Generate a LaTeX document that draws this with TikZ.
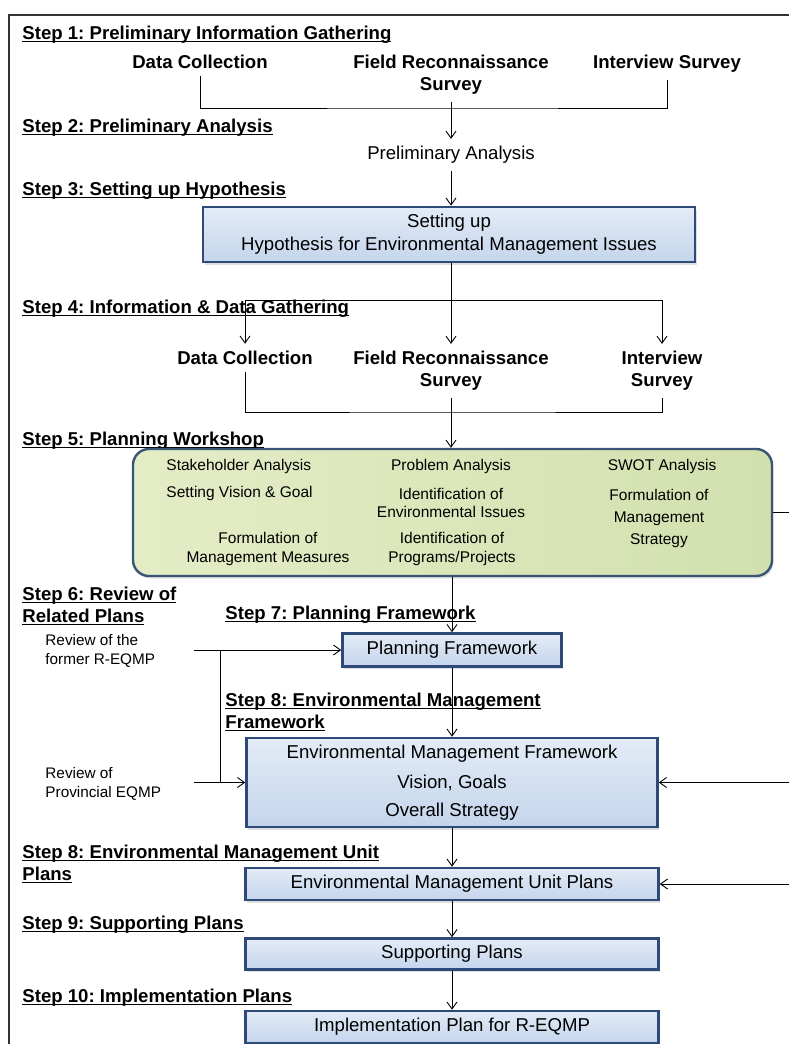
\documentclass[tikz,border=0pt]{standalone}
\usepackage{fontspec}
\setmainfont{Liberation Sans}
\usetikzlibrary{arrows.meta,shadows}
\frenchspacing

\definecolor{boxedge}{HTML}{2D4A78}
\definecolor{boxtop}{HTML}{E3EBF6}
\definecolor{boxbot}{HTML}{C4D5EC}
\definecolor{wsedge}{HTML}{3A5475}
\definecolor{wsleft}{HTML}{E4ECC6}
\definecolor{wsright}{HTML}{D2E0AE}
\definecolor{framegray}{HTML}{333333}

% underline that sits just below the baseline
\newcommand\stepul[1]{\setbox0=\hbox{#1}\rlap{\rule[-2.6pt]{\wd0}{1.1pt}}\box0}
\newcommand\flowbig{\fontsize{18.6}{22}\selectfont}
\newcommand\flowsmall{\fontsize{15.5}{18.5}\selectfont}
\newcommand\flowrev{\fontsize{15.3}{19}\selectfont}

\begin{document}
\begin{tikzpicture}[x=1pt,y=-1pt,
  line width=0.9pt,
  arr/.style={-{Straight Barb[length=7pt,width=10pt]}},
  steplbl/.style={font=\flowbig\bfseries, inner sep=0pt, anchor=west, align=left},
  item/.style={font=\flowbig\bfseries, align=center, inner xsep=2pt, inner ysep=7pt},
  plaintext/.style={font=\flowbig, align=center, inner xsep=2pt, inner ysep=7pt},
  bluebox/.style={draw=boxedge, line width=2.6pt, top color=boxtop, bottom color=boxbot,
    font=\flowbig, align=center, inner sep=0pt,
    drop shadow={shadow xshift=1.5pt, shadow yshift=-2.5pt, opacity=0.25}},
  wsbox/.style={draw=wsedge, line width=2.4pt, rounded corners=16pt, left color=wsleft, right color=wsright,
    drop shadow={shadow xshift=1.5pt, shadow yshift=-2.5pt, opacity=0.25}},
  wstext/.style={font=\flowsmall, align=center, inner sep=0pt},
  revtext/.style={font=\flowrev, align=left, anchor=west, inner sep=0pt},
]
\useasboundingbox (0,0) rectangle (789,1044);

% outer frame
\draw[framegray, line width=1.4pt] (789,15) -- (9,15) -- (9,1044);

% step headings
\node[steplbl] (s1) at (22,35) {\stepul{Step 1: Preliminary Information Gathering}};
\node[steplbl] (s2) at (22,128) {\stepul{Step 2: Preliminary Analysis}};
\node[steplbl] (s3) at (22,191) {\stepul{Step 3: Setting up Hypothesis}};
\node[steplbl] (s4) at (22,309) {\stepul{Step 4: Information \& Data Gathering}};
\node[steplbl] (s5) at (22,441) {\stepul{Step 5: Planning Workshop}};
\node[steplbl] (s6) at (22,606) {\stepul{Step 6: Review of}\\\stepul{Related Plans}};
\node[steplbl] (s7) at (225,615) {\stepul{Step 7: Planning Framework}};
\node[steplbl] (s8a) at (225,712) {\stepul{Step 8: Environmental Management}\\\stepul{Framework}};
\node[steplbl] (s8b) at (22,864) {\stepul{Step 8: Environmental Management Unit}\\\stepul{Plans}};
\node[steplbl] (s9) at (22,925) {\stepul{Step 9: Supporting Plans}};
\node[steplbl] (s10) at (22,998) {\stepul{Step 10: Implementation Plans}};

% step 1 sources
\node[item] (dc1) at (200,62) {Data Collection};
\node[item] (fr1) at (451,75) {Field Reconnaissance\\Survey};
\node[item] (is1) at (667,64) {Interview Survey};
\coordinate (j1) at (451,108);

% step 2 and 3
\node[plaintext] (pa) at (451,155) {Preliminary Analysis};
\node[bluebox, minimum width=492pt, minimum height=55pt] (hyp) at (449,234.5)
  {Setting up\\[1pt]Hypothesis for Environmental Management Issues};

% step 4 sources
\coordinate (j2) at (451,300);
\node[item] (dc2) at (245,358) {Data Collection};
\node[item] (fr2) at (451,371) {Field Reconnaissance\\Survey};
\node[item] (is2) at (662,371) {Interview\\Survey};
\coordinate (j3) at (451,412);

% step 5 workshop
\node[wsbox, minimum width=639pt, minimum height=127pt] (ws) at (452.5,512.5) {};
\node[wstext, anchor=west] (w1) at (166,466) {Stakeholder Analysis};
\node[wstext, anchor=west] (w2) at (166,493) {Setting Vision \& Goal};
\node[wstext] (w3) at (268,549) {Formulation of\\Management Measures};
\node[wstext] (w4) at (451,466) {Problem Analysis};
\node[wstext] (w5) at (451,503) {Identification of\\Environmental Issues};
\node[wstext] (w6) at (452,549) {Identification of\\Programs/Projects};
\node[wstext] (w7) at (662,466) {SWOT Analysis};
\node[wstext] (w8) at (659,518) {Formulation of\\[3.5pt]Management\\[3.5pt]Strategy};
\coordinate (rw) at (789,514);

% steps 6 to 10
\node[revtext] (rv1) at (45,651) {Review of the\\former R-EQMP};
\node[revtext] (rv2) at (45,784) {Review of\\Provincial EQMP};
\node[bluebox, minimum width=219pt, minimum height=33pt] (pf) at (452,650) {Planning Framework};
\node[bluebox, minimum width=411pt, minimum height=89pt] (emf) at (452,782.5)
  {Environmental Management Framework\\[8pt]Vision, Goals\\[6pt]Overall Strategy};
\node[bluebox, minimum width=413pt, minimum height=32pt] (emu) at (452,884) {Environmental Management Unit Plans};
\node[bluebox, minimum width=413pt, minimum height=31pt] (sp) at (452,954) {Supporting Plans};
\node[bluebox, minimum width=413pt, minimum height=32pt] (im) at (452,1027) {Implementation Plan for R-EQMP};

\coordinate (r1) at (194,650);
\coordinate (rj) at (220,650);
\coordinate (r2) at (194,782.5);
\coordinate (re1) at (789,782.5);
\coordinate (re2) at (789,884);

% connectors
\draw (dc1.south) |- (j1) -| (is1.south);
\draw[arr] (fr1.south) -- (pa.north);
\draw[arr] (pa.south) -- (pa.south |- hyp.north);
\draw (hyp.south -| j2) -- (j2);
\draw[arr] (j2) -- (fr2.north);
\draw[arr] (j2) -| (dc2.north);
\draw[arr] (j2) -| (is2.north);
\draw (dc2.south) |- (j3) -| (is2.south);
\draw[arr] (fr2.south) -- (fr2.south |- ws.north);
\draw (ws.east) -- (ws.east -| rw);
\draw[arr] (pf.north |- ws.south) -- (pf.north);
\draw[arr] (r1) -- (pf.west);
\draw (rj) -- (rj |- emf.west);
\draw[arr] (r2) -- (emf.west);
\draw[arr] (pf.south) -- (emf.north);
\draw[arr] (re1) -- (emf.east);
\draw[arr] (emf.south) -- (emu.north);
\draw[arr] (re2) -- (emu.east);
\draw[arr] (emu.south) -- (sp.north);
\draw[arr] (sp.south) -- (im.north);
\end{tikzpicture}
\end{document}
